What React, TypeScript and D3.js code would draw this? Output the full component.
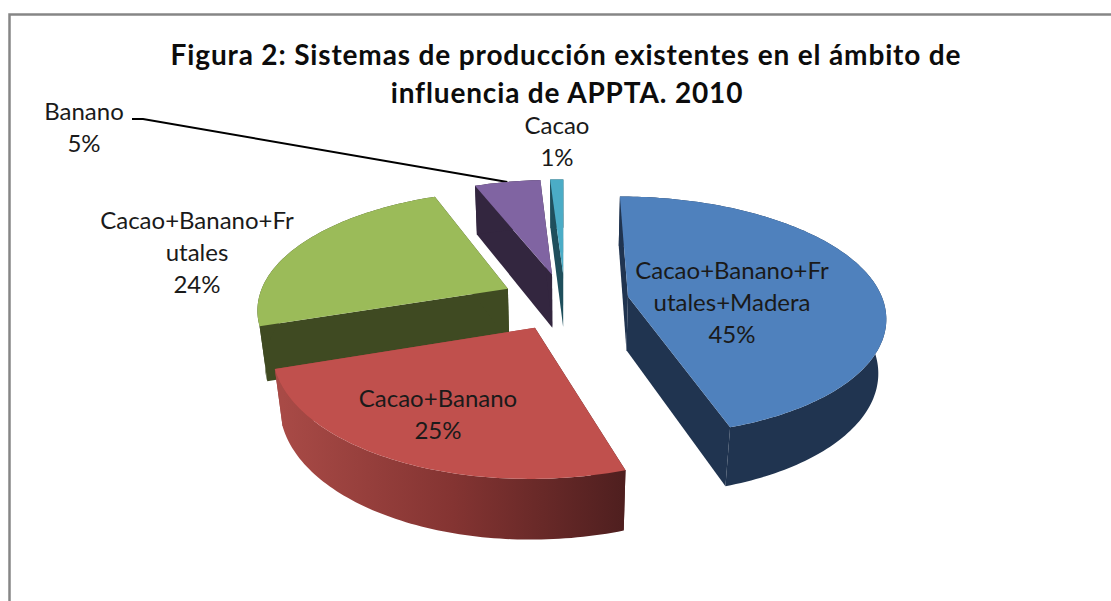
import React from "react";
import * as d3 from "d3";

const W = 1111;
const H = 601;

// values
const categories = ["Cacao+Banano+Frutales+Madera", "Cacao+Banano", "Cacao+Banano+Frutales", "Banano", "Cacao"];
const values = [45, 25, 24, 5, 1];
const topColors = ["#4f81bd", "#c0504d", "#9bbb59", "#8064a2", "#4bacc6"];
const wallColors = ["#203450", "url(#redWall)", "#3f4a22", "#33263f", "#1f4f5c"];
const explode = [0.25, 0.25, 0.25, 0.24, 0.24];
// back slices first so the front ones paint over them
const drawOrder = [4, 3, 2, 0, 1];

const titleLines = ["Figura 2: Sistemas de producción existentes en el ámbito de", "influencia de APPTA. 2010"];
const labels = [
  { lines: ["Cacao+Banano+Fr", "utales+Madera", "45%"], x: 732, y: 279 },
  { lines: ["Cacao+Banano", "25%"], x: 438, y: 407 },
  { lines: ["Cacao+Banano+Fr", "utales", "24%"], x: 197, y: 229 },
  { lines: ["Banano", "5%"], x: 84, y: 120 },
  { lines: ["Cacao", "1%"], x: 557, y: 134 },
];

// perspective fitted on the slice corners
const vanishX = 565;
const vanishY = -483;
const scaleX = 256.5;
const topDepth = 784;
const bottomDepth = 859;
const tilt = 0.148;
const drop = 0.025;
// the rim is not quite a true circle in the original
const rimLeft = 0.975;
const rimRight = 0.995;
const rimFront = 1.027;

type Pt = [number, number];

function project(u: number, v: number, bottom: boolean): Pt {
  const w = 1 + tilt * v + (bottom ? drop : 0);
  return [vanishX + (scaleX * u) / w, vanishY + (bottom ? bottomDepth : topDepth) / w];
}

const pie = d3.pie<number>().sort(null).startAngle(0).endAngle(2 * Math.PI);
const arcs = pie(values);
const line = d3.line<Pt>();

function rimPoint(t: number): Pt {
  const s = Math.sin(t);
  const c = Math.cos(t);
  return [(s < 0 ? rimLeft : rimRight) * s, c < 0 ? rimFront * c : c];
}

function sliceGeometry(i: number) {
  const a = arcs[i];
  const mid = (a.startAngle + a.endAngle) / 2;
  const ou = explode[i] * Math.sin(mid);
  const ov = explode[i] * Math.cos(mid);
  const steps = Math.max(4, Math.ceil((a.endAngle - a.startAngle) / 0.02));
  const angles = d3.range(steps + 1).map(k => a.startAngle + ((a.endAngle - a.startAngle) * k) / steps);
  const rim = (bottom: boolean) =>
    angles.map(t => {
      const [u, v] = rimPoint(t);
      return project(ou + u, ov + v, bottom);
    });
  const vertex = (bottom: boolean) => project(ou, ov, bottom);
  return { rim, vertex, ou, ov, mid };
}

function Slice({ i }: { i: number }) {
  const g = sliceGeometry(i);
  const topRim = g.rim(false);
  const botRim = g.rim(true);
  const vt = g.vertex(false);
  const vb = g.vertex(true);
  const last = topRim.length - 1;
  const startFace: Pt[] = [vt, topRim[0], botRim[0], vb];
  const endFace: Pt[] = [vt, topRim[last], botRim[last], vb];
  const outer: Pt[] = [...topRim, ...botRim.slice().reverse()];
  const top: Pt[] = [vt, ...topRim];
  return (
    <g>
      <path d={line(startFace) + "Z"} fill={wallColors[i] === "url(#redWall)" ? "#4f1f1f" : wallColors[i]} />
      <path d={line(endFace) + "Z"} fill={wallColors[i] === "url(#redWall)" ? "#9c4340" : wallColors[i]} />
      <path d={line(outer) + "Z"} fill={wallColors[i]} />
      <path d={line(top) + "Z"} fill={topColors[i]} />
    </g>
  );
}

export default function App() {
  const purple = sliceGeometry(3);
  const [lu, lv] = rimPoint(purple.mid);
  const leaderEnd = project(purple.ou + lu, purple.ov + lv, false);
  const redRim = sliceGeometry(1).rim(true);
  const redXs = d3.extent(redRim, d => d[0]) as [number, number];

  return (
    <svg
      width={W}
      height={H}
      style={{ position: "absolute", left: 0, top: 0, background: "#fff" }}
      role="img"
      aria-label={categories.join(", ")}
    >
      <defs>
        <linearGradient id="redWall" gradientUnits="userSpaceOnUse" x1={redXs[0]} x2={redXs[1]} y1={0} y2={0}>
          <stop offset="0" stopColor="#a84a46" />
          <stop offset="0.5" stopColor="#843432" />
          <stop offset="1" stopColor="#4f1f1f" />
        </linearGradient>
      </defs>

      <path d={`M9.5,${H}V14.5H${W}`} fill="none" stroke="#868686" strokeWidth={2.5} />

      <g
        fontFamily="Lato, 'Open Sans', sans-serif"
        fontWeight={700}
        fontSize={28}
        letterSpacing={0.85}
        fill="#0c0c0c"
        textAnchor="middle"
      >
        <text x={566} y={65}>{titleLines[0]}</text>
        <text x={567} y={103}>{titleLines[1]}</text>
      </g>

      <path
        d={line([[132, 119], [143, 119], leaderEnd]) as string}
        fill="none"
        stroke="#000"
        strokeWidth={2}
      />

      {drawOrder.map(i => <Slice key={categories[i]} i={i} />)}

      <g fontFamily="Lato, 'Open Sans', sans-serif" fontSize={24} fill="#1a1a1a" textAnchor="middle">
        {labels.map(l => (
          <text key={l.lines.join()} x={l.x} y={l.y}>
            {l.lines.map((s, k) => (
              <tspan key={k} x={l.x} dy={k === 0 ? 0 : 32}>{s}</tspan>
            ))}
          </text>
        ))}
      </g>
    </svg>
  );
}
